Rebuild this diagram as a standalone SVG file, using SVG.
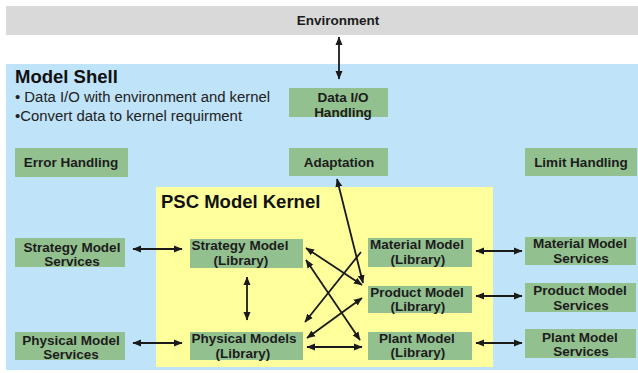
<svg xmlns="http://www.w3.org/2000/svg" width="638" height="373" viewBox="0 0 638 373">
<defs>
<style>
.box{fill:#93c08f;}
.lbl{font-family:"Liberation Sans",Arial,sans-serif;font-weight:bold;font-size:13.5px;fill:#1c1c1c;text-anchor:middle;}
.ttl{font-family:"Liberation Sans",Arial,sans-serif;font-weight:bold;font-size:18.5px;fill:#111;}
.bul{font-family:"Liberation Sans",Arial,sans-serif;font-size:14.9px;fill:#222;}
.con{stroke:#1a1a1a;stroke-width:1.8;fill:none;}
.bi{marker-start:url(#ah);marker-end:url(#ah);}
</style>
<marker id="ah" markerUnits="userSpaceOnUse" markerWidth="9" markerHeight="8" refX="8" refY="4" orient="auto-start-reverse" viewBox="0 0 9 8">
<path d="M0,0.5 L8.5,4 L0,7.5 z" fill="#1a1a1a"/>
</marker>
</defs>
<rect width="638" height="373" fill="#ffffff"/>
<g id="environment">
<rect x="6" y="6" width="632" height="29" fill="#d9d9d9"/>
<text class="lbl" x="338" y="25">Environment</text>
</g>
<g id="model-shell">
<rect x="6" y="64" width="632" height="306" fill="#bfe3f8"/>
<text class="ttl" x="15" y="83">Model Shell</text>
<text class="bul" x="15" y="102">• Data I/O with environment and kernel</text>
<text class="bul" x="15" y="121">•Convert data to kernel requirment</text>
</g>
<g id="psc-model-kernel">
<rect x="156" y="187" width="337" height="180" fill="#ffff9c"/>
<text class="ttl" x="161" y="208">PSC Model Kernel</text>
</g>
<g id="data-io-handling">
<rect class="box" x="289" y="88" width="99" height="29"/>
<text class="lbl" x="343" y="102">Data I/O</text>
<text class="lbl" x="343" y="117">Handling</text>
</g>
<g id="error-handling">
<rect class="box" x="15" y="148" width="113" height="29"/>
<text class="lbl" x="71" y="167">Error Handling</text>
</g>
<g id="adaptation">
<rect class="box" x="289" y="148" width="99" height="28"/>
<text class="lbl" x="339" y="167">Adaptation</text>
</g>
<g id="limit-handling">
<rect class="box" x="525" y="148" width="112" height="28"/>
<text class="lbl" x="581" y="167">Limit Handling</text>
</g>
<g id="strategy-model-services">
<rect class="box" x="15" y="238" width="110" height="29"/>
<text class="lbl" x="72" y="252">Strategy Model</text>
<text class="lbl" x="72" y="266">Services</text>
</g>
<g id="physical-model-services">
<rect class="box" x="15" y="332" width="110" height="28"/>
<text class="lbl" x="71" y="345">Physical Model</text>
<text class="lbl" x="71" y="359">Services</text>
</g>
<g id="strategy-model-library">
<rect class="box" x="190" y="239" width="113" height="29"/>
<text class="lbl" x="240" y="250">Strategy Model</text>
<text class="lbl" x="241" y="265">(Library)</text>
</g>
<g id="physical-models-library">
<rect class="box" x="190" y="332" width="113" height="28"/>
<text class="lbl" x="244" y="343">Physical Models</text>
<text class="lbl" x="243" y="358">(Library)</text>
</g>
<g id="material-model-library">
<rect class="box" x="368" y="238" width="104" height="29"/>
<text class="lbl" x="417" y="249">Material Model</text>
<text class="lbl" x="418" y="264">(Library)</text>
</g>
<g id="product-model-library">
<rect class="box" x="368" y="286" width="104" height="27"/>
<text class="lbl" x="417" y="297">Product Model</text>
<text class="lbl" x="418" y="311">(Library)</text>
</g>
<g id="plant-model-library">
<rect class="box" x="368" y="332" width="104" height="28"/>
<text class="lbl" x="417" y="343">Plant Model</text>
<text class="lbl" x="418" y="357">(Library)</text>
</g>
<g id="material-model-services">
<rect class="box" x="525" y="237" width="111" height="28"/>
<text class="lbl" x="580" y="248">Material Model</text>
<text class="lbl" x="581" y="263">Services</text>
</g>
<g id="product-model-services">
<rect class="box" x="525" y="283" width="111" height="29"/>
<text class="lbl" x="580" y="295">Product Model</text>
<text class="lbl" x="581" y="310">Services</text>
</g>
<g id="plant-model-services">
<rect class="box" x="525" y="329" width="111" height="29"/>
<text class="lbl" x="580" y="342">Plant Model</text>
<text class="lbl" x="581" y="356">Services</text>
</g>
<g id="connectors">
<line class="con bi" x1="339" y1="37" x2="339" y2="79"/>
<line class="con bi" x1="133" y1="249" x2="182" y2="249"/>
<line class="con bi" x1="133" y1="343" x2="182" y2="343"/>
<line class="con bi" x1="247" y1="277" x2="247" y2="320"/>
<line class="con bi" x1="476" y1="251" x2="522" y2="251"/>
<line class="con bi" x1="476" y1="296" x2="522" y2="296"/>
<line class="con bi" x1="476" y1="343" x2="522" y2="343"/>
<line class="con bi" x1="337" y1="179" x2="363" y2="283"/>
<line class="con bi" x1="306" y1="248" x2="362" y2="285"/>
<line class="con bi" x1="306" y1="260" x2="360" y2="340"/>
<line class="con" style="marker-start:url(#ah)" x1="305" y1="322" x2="361" y2="252"/>
<line class="con bi" x1="307" y1="338" x2="362" y2="298"/>
<line class="con bi" x1="307" y1="347" x2="362" y2="347"/>
</g>
</svg>
